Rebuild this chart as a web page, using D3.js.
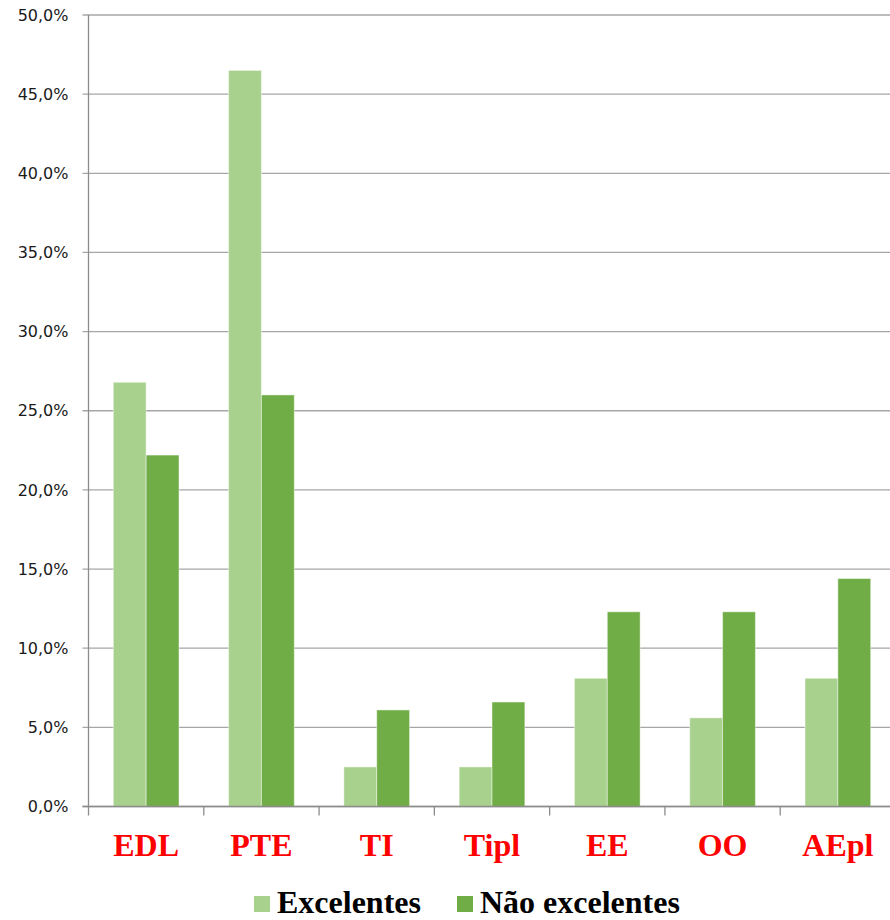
<!DOCTYPE html>
<html>
<head>
<meta charset="utf-8">
<script src="https://cdn.jsdelivr.net/npm/d3@7"></script>
<style>
  body { margin: 0; background: #fff; }
  svg { display: block; }
</style>
</head>
<body>
<div class="chart"></div>
<script>
const categories = ['EDL', 'PTE', 'TI', 'Tipl', 'EE', 'OO', 'AEpl'];
const seriesNames = ['Excelentes', 'Não excelentes'];
const excelentes = [26.8, 46.5, 2.5, 2.5, 8.1, 5.6, 8.1];
const naoExcelentes = [22.2, 26.0, 6.1, 6.6, 12.3, 12.3, 14.4];
const yTicks = [0, 5, 10, 15, 20, 25, 30, 35, 40, 45, 50];
const colors = ['#a9d18e', '#70ad47'];

function drawChart() {
  let margin = {top: 15, left: 88.5};
  let width = 807;
  let height = 791.5;

  let svg = d3.select('.chart')
    .append('svg')
    .attr('width', 890)
    .attr('height', 920);

  let g = svg.append('g')
    .attr('transform', `translate(${margin.left}, ${margin.top})`);

  let yScale = d3.scaleLinear()
    .domain([0, 50])
    .range([height, 0]);

  let xScale = d3.scaleBand()
    .domain(categories)
    .range([0, width])
    .paddingInner(0.43)
    .paddingOuter(0.215);

  let xInner = d3.scaleBand()
    .domain(seriesNames)
    .range([0, xScale.bandwidth()]);

  let fmt = d => d.toFixed(1).replace('.', ',') + '%';

  // gridlines
  g.selectAll('.grid')
    .data(yTicks)
    .enter()
    .append('line')
    .attr('class', 'grid')
    .attr('x1', -6)
    .attr('x2', width)
    .attr('y1', d => yScale(d))
    .attr('y2', d => yScale(d))
    .style('stroke', '#a6a6a6')
    .style('stroke-width', 1.3);

  // y axis labels
  let yAxis = g.append('g')
    .call(d3.axisLeft(yScale).tickValues(yTicks).tickFormat(fmt).tickSize(6).tickPadding(14));
  yAxis.select('.domain').remove();
  yAxis.selectAll('line').remove();
  yAxis.selectAll('text')
    .style('font-family', '"DejaVu Sans", sans-serif')
    .style('font-size', '16px')
    .style('fill', '#1a1a1a');

  // bars
  let rows = categories.map((c, i) => ({cat: c, values: [excelentes[i], naoExcelentes[i]]}));
  let groups = g.selectAll('.cat')
    .data(rows)
    .enter()
    .append('g')
    .attr('class', 'cat')
    .attr('transform', d => `translate(${xScale(d.cat)}, 0)`);

  groups.selectAll('rect')
    .data(d => d.values.map((v, j) => ({name: seriesNames[j], value: v, j: j})))
    .enter()
    .append('rect')
    .attr('x', d => xInner(d.name))
    .attr('width', xInner.bandwidth())
    .attr('y', d => yScale(d.value))
    .attr('height', d => yScale(0) - yScale(d.value))
    .style('fill', d => colors[d.j])
    .style('stroke', '#ffffff')
    .style('stroke-opacity', 0.45)
    .style('stroke-width', 1);

  // axes lines
  g.append('line')
    .attr('x1', 0).attr('x2', 0)
    .attr('y1', 0).attr('y2', height)
    .style('stroke', '#8c8c8c')
    .style('stroke-width', 1.3);

  let xAxis = g.append('g')
    .attr('transform', `translate(0, ${height})`);
  xAxis.append('line')
    .attr('x1', -6).attr('x2', width)
    .style('stroke', '#8c8c8c')
    .style('stroke-width', 1.3);
  let step = xScale.step();
  xAxis.selectAll('.tick')
    .data(d3.range(categories.length + 1))
    .enter()
    .append('line')
    .attr('x1', d => d * step)
    .attr('x2', d => d * step)
    .attr('y1', 0)
    .attr('y2', 9)
    .style('stroke', '#8c8c8c')
    .style('stroke-width', 1.3);

  xAxis.selectAll('.xlabel')
    .data(categories)
    .enter()
    .append('text')
    .attr('class', 'xlabel')
    .attr('x', d => xScale(d) + xScale.bandwidth() / 2)
    .attr('y', 49)
    .attr('text-anchor', 'middle')
    .style('font-family', '"Liberation Serif", "Times New Roman", serif')
    .style('font-weight', 'bold')
    .style('font-size', '32px')
    .style('fill', '#ff0000')
    .text(d => d);

  // legend
  let legendX = [254, 457];
  let legend = svg.append('g');
  seriesNames.forEach((name, i) => {
    legend.append('rect')
      .attr('x', legendX[i])
      .attr('y', 896)
      .attr('width', 16)
      .attr('height', 16)
      .style('fill', colors[i]);
    legend.append('text')
      .attr('x', legendX[i] + 23)
      .attr('y', 913)
      .style('font-family', '"Liberation Serif", "Times New Roman", serif')
      .style('font-weight', 'bold')
      .style('font-size', '32px')
      .style('fill', '#000')
      .text(name);
  });
}

drawChart();
</script>
</body>
</html>
